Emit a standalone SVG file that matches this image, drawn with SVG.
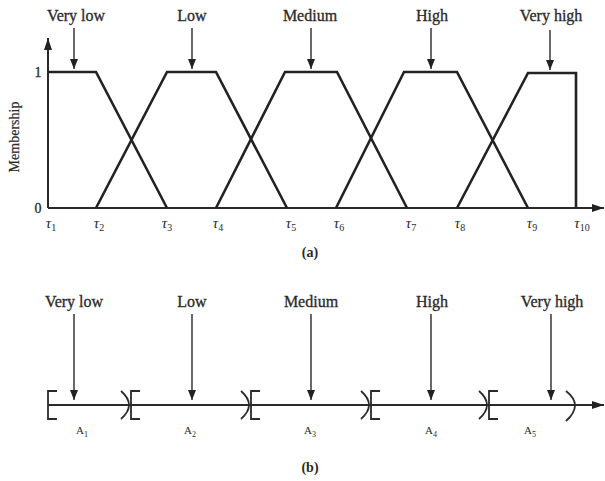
<svg xmlns="http://www.w3.org/2000/svg" width="605" height="481" viewBox="0 0 605 481">
<defs>
<marker id="ah" viewBox="0 0 10 10" refX="10" refY="5" markerWidth="10" markerHeight="10" markerUnits="userSpaceOnUse" orient="auto">
<path d="M0,1 L10,5 L0,9 Z" fill="#222"/>
</marker>
<marker id="axh" viewBox="0 0 12 10" refX="12" refY="5" markerWidth="12" markerHeight="10" markerUnits="userSpaceOnUse" orient="auto">
<path d="M0,1 L12,5 L0,9 Z" fill="#222"/>
</marker>
</defs>
<style>
text{font-family:"Liberation Serif","Times New Roman",serif;fill:#2a2a2a}
.lab{font-size:16px;text-anchor:middle;stroke:#2a2a2a;stroke-width:0.3}
.tk{font-size:15px;font-style:italic;text-anchor:middle}
.sub{font-size:10px;font-style:normal}
.al{font-size:11px;text-anchor:middle}
.als{font-size:8px}
.ax{stroke:#2a2a2a;stroke-width:2;fill:none}
.mf{stroke:#222;stroke-width:2.6;fill:none;stroke-linejoin:miter}
.ar{stroke:#2a2a2a;stroke-width:1.4;fill:none;marker-end:url(#ah)}
.br{stroke:#2a2a2a;stroke-width:1.8;fill:none}
</style>
<rect width="605" height="481" fill="#ffffff"/>

<!-- (a) membership plot -->
<g id="axes-a">
<line class="ax" x1="48" y1="208" x2="48" y2="38" style="marker-end:url(#axh)"/>
<line class="ax" x1="48" y1="208" x2="604" y2="208" style="marker-end:url(#axh)"/>
<text class="lab" x="38" y="77" style="font-size:14px">1</text>
<text class="lab" x="38" y="213" style="font-size:14px">0</text>
<text class="lab" transform="translate(19,137) rotate(-90)" style="font-size:14px;stroke-width:0.2">Membership</text>
<text class="lab" x="310" y="257" style="font-size:14px;font-weight:bold;stroke-width:0">(a)</text>
</g>
<g id="ticks-a">
<text class="tk" x="51" y="228">τ<tspan class="sub" dy="3">1</tspan></text>
<text class="tk" x="99" y="228">τ<tspan class="sub" dy="3">2</tspan></text>
<text class="tk" x="167" y="228">τ<tspan class="sub" dy="3">3</tspan></text>
<text class="tk" x="218" y="228">τ<tspan class="sub" dy="3">4</tspan></text>
<text class="tk" x="291" y="228">τ<tspan class="sub" dy="3">5</tspan></text>
<text class="tk" x="339" y="228">τ<tspan class="sub" dy="3">6</tspan></text>
<text class="tk" x="411" y="228">τ<tspan class="sub" dy="3">7</tspan></text>
<text class="tk" x="460" y="228">τ<tspan class="sub" dy="3">8</tspan></text>
<text class="tk" x="532" y="228">τ<tspan class="sub" dy="3">9</tspan></text>
<text class="tk" x="582" y="228">τ<tspan class="sub" dy="3">10</tspan></text>
</g>
<g id="mf-verylow">
<polyline class="mf" points="48,72 96,72 167,208"/>
<text class="lab" x="76" y="21">Very low</text>
<line class="ar" x1="74" y1="28" x2="74" y2="69"/>
</g>
<g id="mf-low">
<polyline class="mf" points="96,208 167,72 216,72 287,208"/>
<text class="lab" x="192" y="21">Low</text>
<line class="ar" x1="192" y1="28" x2="192" y2="69"/>
</g>
<g id="mf-medium">
<polyline class="mf" points="216,208 285,72 337,72 407,208"/>
<text class="lab" x="310" y="21">Medium</text>
<line class="ar" x1="311" y1="28" x2="311" y2="69"/>
</g>
<g id="mf-high">
<polyline class="mf" points="336,208 404,72 457,72 528,208"/>
<text class="lab" x="432" y="21">High</text>
<line class="ar" x1="431" y1="28" x2="431" y2="69"/>
</g>
<g id="mf-veryhigh">
<polyline class="mf" points="457,208 528,73 576,73 576,208"/>
<text class="lab" x="551" y="21">Very high</text>
<line class="ar" x1="550" y1="30" x2="550" y2="70"/>
</g>

<!-- (b) intervals -->
<g id="axis-b">
<line class="ax" x1="48" y1="405" x2="604" y2="405" style="marker-end:url(#axh)"/>
<text class="lab" x="310" y="472" style="font-size:14px;font-weight:bold;stroke-width:0">(b)</text>
</g>
<g id="brackets-b">
<path class="br" d="M57,391 H48 V419 H57"/>
<path class="br" d="M121,391 Q137,405 121,419 M140,391 H131 V419 H140"/>
<path class="br" d="M241,391 Q257,405 241,419 M260,391 H251 V419 H260"/>
<path class="br" d="M361,391 Q377,405 361,419 M380,391 H371 V419 H380"/>
<path class="br" d="M479,391 Q495,405 479,419 M498,391 H489 V419 H498"/>
<path class="br" d="M566,391 Q584,405 566,421"/>
</g>
<g id="int-a1">
<text class="lab" x="74" y="307">Very low</text>
<line class="ar" x1="74" y1="314" x2="74" y2="400"/>
<text class="al" x="82" y="434">A<tspan class="als" dy="3">1</tspan></text>
</g>
<g id="int-a2">
<text class="lab" x="192" y="307">Low</text>
<line class="ar" x1="192" y1="314" x2="192" y2="400"/>
<text class="al" x="190" y="434">A<tspan class="als" dy="3">2</tspan></text>
</g>
<g id="int-a3">
<text class="lab" x="311" y="307">Medium</text>
<line class="ar" x1="311" y1="314" x2="311" y2="400"/>
<text class="al" x="310" y="434">A<tspan class="als" dy="3">3</tspan></text>
</g>
<g id="int-a4">
<text class="lab" x="432" y="307">High</text>
<line class="ar" x1="431" y1="314" x2="431" y2="400"/>
<text class="al" x="431" y="434">A<tspan class="als" dy="3">4</tspan></text>
</g>
<g id="int-a5">
<text class="lab" x="552" y="307">Very high</text>
<line class="ar" x1="551" y1="314" x2="551" y2="400"/>
<text class="al" x="530" y="434">A<tspan class="als" dy="3">5</tspan></text>
</g>
</svg>
